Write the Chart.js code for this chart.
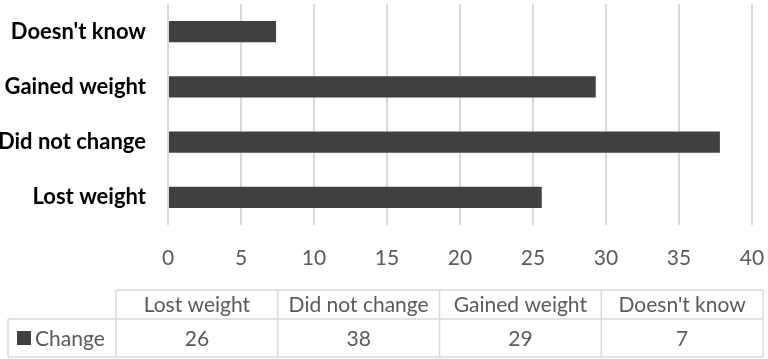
<!DOCTYPE html>
<html><head><meta charset="utf-8">
<script src="https://cdn.jsdelivr.net/npm/chart.js@4"></script>
<style>html,body{margin:0;padding:0;background:#fff;overflow:hidden}#wrap{width:768px;height:359px;position:relative}</style>
</head><body><div id="wrap"><canvas id="c"></canvas></div>
<script>
const categories = ["Lost weight", "Did not change", "Gained weight", "Doesn't know"];
const seriesName = "Change";
const changeValues = [25.6, 37.8, 29.3, 7.4];
const tableValues = [26, 38, 29, 7];
const xMin = 0, xMax = 40, xStep = 5;

const FONT = "Lato, 'Open Sans', sans-serif";
const TEXT_GRAY = "#595959";
const LINE_GRAY = "#d9d9d9";
const BAR_COLOR = "#404040";

const dataTablePlugin = {
  id: 'dataTable',
  afterDraw(chart) {
    const ctx = chart.ctx;
    const left = 8, legendRight = 116, right = 763;
    const y0 = 290, y1 = 319, y2 = 357;
    const n = categories.length;
    const colW = (right - legendRight) / n;
    ctx.save();
    ctx.strokeStyle = LINE_GRAY;
    ctx.lineWidth = 1.5;
    ctx.beginPath();
    ctx.moveTo(legendRight, y0); ctx.lineTo(right, y0);
    ctx.moveTo(left, y1); ctx.lineTo(right, y1);
    ctx.moveTo(left, y2); ctx.lineTo(right, y2);
    ctx.moveTo(left, y1); ctx.lineTo(left, y2);
    for (let i = 0; i <= n; i++) {
      const x = legendRight + i * colW;
      ctx.moveTo(x, y0); ctx.lineTo(x, y2);
    }
    ctx.stroke();
    ctx.fillStyle = TEXT_GRAY;
    ctx.font = "21px " + FONT;
    ctx.textBaseline = 'middle';
    ctx.textAlign = 'center';
    for (let i = 0; i < n; i++) {
      const cx = legendRight + (i + 0.5) * colW;
      ctx.fillText(categories[i], cx, (y0 + y1) / 2 + 1);
      ctx.fillText(String(tableValues[i]), cx, (y1 + y2) / 2 + 1);
    }
    ctx.fillStyle = BAR_COLOR;
    ctx.fillRect(17, 331, 14, 14);
    ctx.fillStyle = TEXT_GRAY;
    ctx.textAlign = 'left';
    ctx.fillText(seriesName, 35, (y1 + y2) / 2 + 1);
    ctx.restore();
  }
};

function draw() {
  new Chart(document.getElementById('c'), {
    type: 'bar',
    data: {
      labels: categories,
      datasets: [{
        label: seriesName,
        data: changeValues,
        backgroundColor: BAR_COLOR,
        borderWidth: 0,
        categoryPercentage: 1,
        barPercentage: 0.385
      }]
    },
    options: {
      indexAxis: 'y',
      responsive: true,
      maintainAspectRatio: false,
      animation: false,
      layout: { padding: { left: 0, right: 16, top: 4, bottom: 90 } },
      plugins: { legend: { display: false }, tooltip: { enabled: false } },
      scales: {
        x: {
          min: xMin, max: xMax,
          ticks: { stepSize: xStep, color: TEXT_GRAY, font: { family: FONT, size: 21 }, padding: 21 },
          grid: { color: LINE_GRAY, lineWidth: 2, drawTicks: false },
          border: { display: false },
          afterFit(scale) { scale.height = 44; scale.paddingLeft = 0; scale.paddingRight = 0; }
        },
        y: {
          reverse: true,
          ticks: { color: '#000', font: { family: FONT, size: 22, weight: 'bold' }, padding: 22 },
          grid: { display: false, drawTicks: false },
          border: { display: false },
          afterFit(scale) { scale.width = 168; scale.paddingTop = 0; scale.paddingBottom = 0; }
        }
      }
    },
    plugins: [dataTablePlugin]
  });
}
Promise.all([
  document.fonts.load("21px Lato"),
  document.fonts.load("bold 22px Lato")
]).then(draw, draw);
</script>
</body></html>
